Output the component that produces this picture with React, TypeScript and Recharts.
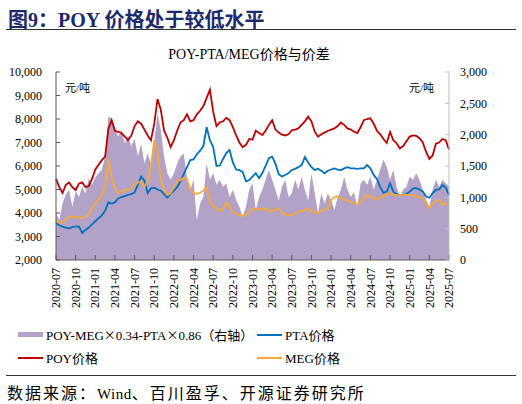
import { Area, ComposedChart, Line, XAxis, YAxis } from "recharts";

// quarterly tick labels on the x axis (one data point every half month)
const tickLabels = [
    '2020-07', '2020-10', '2021-01', '2021-04', '2021-07', '2021-10', '2022-01',
    '2022-04', '2022-07', '2022-10', '2023-01', '2023-04', '2023-07', '2023-10',
    '2024-01', '2024-04', '2024-07', '2024-10', '2025-01', '2025-04', '2025-07',
];

// 元/吨, left axis
const poyPrice = [
    5450, 5100, 4850, 5200, 5300, 5100, 4980, 5250, 5300, 5100,
    5150, 5450, 5850, 6050, 6250, 6400, 7600, 7950, 7500, 7450,
    7400, 7250, 7100, 7300, 7700, 7900, 7800, 7550, 7300, 7100,
    7800, 8850, 8400, 7500, 7200, 6800, 7100, 7500, 7850, 7950,
    8200, 7900, 7950, 8200, 8350, 8550, 8900, 9250, 8300, 7700,
    7850, 7900, 8050, 7950, 7650, 7300, 7000, 6800, 6900, 7150,
    7120, 7500, 7400, 7320, 7500, 7750, 7950, 7550, 7420, 7330,
    7300, 7350, 7520, 7550, 7600, 7750, 7900, 8100, 7900, 7460,
    7250, 7350, 7420, 7500, 7550, 7600, 7700, 7850, 7750, 7600,
    7550, 7460, 7400, 7650, 7950, 8000, 8030, 7800, 7500, 7350,
    7150, 6980, 7450, 7100, 6970, 6750, 6850, 7050, 7250, 7300,
    7280, 7180, 7000, 6600, 6300, 6450, 6950, 7000, 7150, 7100,
    6700,
];

const ptaPrice = [
    3560, 3480, 3420, 3380, 3350, 3400, 3430, 3420, 3150, 3280,
    3380, 3520, 3650, 3780, 3900, 4100, 4450, 4400, 4450, 4620,
    4680, 4720, 4770, 4800, 4880, 5200, 5550, 5380, 4850, 5050,
    5080, 5000, 4950, 4800, 4650, 4820, 4950, 5100, 5350, 5650,
    5950, 6250, 6280, 6500, 6650, 6850, 7650, 7100, 6800, 6000,
    6020, 6300, 6550, 6680, 6150, 5850, 5820, 5750, 5350, 5400,
    5550, 5690, 5480, 5700, 6000, 6330, 6400, 6100, 5650, 5550,
    5620, 5700, 5830, 5880, 5950, 6040, 6380, 6150, 5950, 5830,
    5880, 5800, 5690, 5800, 5850, 5900, 5850, 5830, 5900, 5950,
    5900, 5900, 5880, 5900, 5900, 6040, 5900, 5620, 5450, 5100,
    4860, 4910, 5260, 4910, 4800, 4770, 4770, 4820, 4900, 5050,
    5060, 5000, 4920, 4700, 4650, 4850, 4980, 5000, 5190, 5080,
    4770,
];

const megPrice = [
    3700, 3600, 3580, 3750, 3820, 3860, 3850, 3800, 3780, 3840,
    3950, 4200, 4400, 4580, 4770, 5100, 6300, 5500, 5080, 4850,
    4900, 4980, 4980, 5050, 5200, 5300, 5350, 5120, 5350, 6000,
    7100, 6600, 5400, 5000, 4770, 4840, 5100, 5350, 5400, 5500,
    5450, 5000, 4850, 4820, 4860, 4950, 5100, 4450, 4300, 4200,
    4080, 4200, 4410, 4300, 4050, 3960, 3920, 3860, 3950, 4000,
    4200, 4180, 4130, 4180, 4200, 4070, 4100, 4150, 4200, 4000,
    3940, 3920, 3910, 3980, 4060, 4060, 4120, 4200, 4080, 4030,
    3990, 4100, 4150, 4200, 4550, 4680, 4700, 4630, 4580, 4530,
    4480, 4410, 4400, 4450, 4630, 4750, 4700, 4630, 4560, 4680,
    4720, 4800, 4840, 4780, 4770, 4760, 4780, 4770, 4770, 4740,
    4700, 4680, 4630, 4400, 4200, 4400, 4500, 4560, 4350, 4420,
    4400,
];

// POY-MEG×0.34-PTA×0.86, right axis
const spread = [
    745, 640, 900, 1050, 1120, 850, 1100, 1000, 1170, 1060,
    1300, 1200, 1320, 1385, 1440, 1650, 2290, 2260, 2100, 1970,
    2075, 1860, 1995, 1810, 1940, 1650, 1860, 1540, 1700, 1540,
    1900, 2340, 2075, 1650, 1385, 1280, 1385, 1540, 1650, 1700,
    1300, 1120, 1280, 640, 900, 1010, 1540, 1280, 1385, 1200,
    1280, 1170, 1225, 1000, 1120, 960, 850, 690, 850, 1120,
    1225, 800, 1000, 1120, 1280, 1440, 1280, 1120, 950, 1170,
    1280, 1000, 1065, 1280, 1120, 1330, 1120, 950, 1385, 1065,
    745, 1065, 900, 1065, 960, 800, 1000, 1120, 1330, 1120,
    1010, 1080, 850, 1225, 1280, 1200, 1330, 1120, 1280, 1450,
    1600, 1490, 1280, 1440, 1170, 1010, 1120, 1170, 1330, 1280,
    1385, 1280, 1120, 960, 850, 1120, 1280, 1170, 1280, 1220,
    1170,
];

const leftTicks = [2000, 3000, 4000, 5000, 6000, 7000, 8000, 9000, 10000];
const rightTicks = [0, 500, 1000, 1500, 2000, 2500, 3000];

// t = months since 2020-07
const data = poyPrice.map((v, i) => ({
    t: i / 2,
    poy: v,
    pta: ptaPrice[i],
    meg: megPrice[i],
    spread: spread[i],
}));

const SERIF = "'Liberation Serif', 'Times New Roman', 'Noto Sans CJK SC', serif";
const CJK = "'Noto Sans CJK SC', sans-serif";
const fmt = (v: number) => v.toLocaleString('en-US');

function XTick(props: any) {
    const { x, y, payload } = props;
    return (
        <text x={x} y={y} transform={`rotate(-90, ${x}, ${y})`} textAnchor="end" dy="0.35em"
            fontSize={12} fontFamily={SERIF} fill="#000">
            {tickLabels[Math.round(payload.value / 3)]}
        </text>
    );
}

function LegendItem({ color, label, box }: { color: string; label: React.ReactNode; box?: boolean }) {
    return (
        <div style={{ display: 'flex', alignItems: 'center' }}>
            <div style={{ width: 25, height: box ? 5 : 2, background: color, marginRight: 3 }} />
            <span>{label}</span>
        </div>
    );
}

const times = <span style={{ fontFamily: CJK, fontSize: 12 }}>×</span>;

export default function App() {
    return (
        <div style={{ position: 'absolute', left: 0, top: 0, width: 522, height: 404, background: '#fff', fontFamily: SERIF, color: '#000' }}>
            <div style={{ position: 'absolute', left: 8, top: 4, fontSize: 20, fontWeight: 'bold', color: '#1c2a6b', whiteSpace: 'nowrap' }}>
                图9：POY 价格处于较低水平
            </div>
            <div style={{ position: 'absolute', left: 6, top: 29, width: 510, height: 1, background: '#333' }} />
            <div style={{ position: 'absolute', left: 0, width: 498, top: 43, textAlign: 'center', fontSize: 14, whiteSpace: 'nowrap' }}>
                POY-PTA/MEG价格与价差
            </div>

            <ComposedChart width={522} height={320} data={data} margin={{ top: 72, right: 0, bottom: 0, left: 0 }}
                style={{ position: 'absolute', left: 0, top: 0 }}>
                <XAxis dataKey="t" type="number" domain={[0, 60]} ticks={tickLabels.map((_, i) => i * 3)}
                    interval={0} height={60} tickSize={-5} tickMargin={13} stroke="#595959"
                    tick={(p: any) => <XTick {...p} />} />
                <YAxis yAxisId="left" orientation="left" domain={[2000, 10000]} ticks={leftTicks}
                    width={56} tickSize={-4} tickMargin={18} stroke="#595959" tickFormatter={fmt}
                    tick={{ fill: '#000', fontSize: 12, fontFamily: SERIF }} />
                <YAxis yAxisId="right" orientation="right" domain={[0, 3000]} ticks={rightTicks}
                    width={73} tickSize={-4} tickMargin={15} stroke="#bfbfbf" tickFormatter={fmt}
                    tick={{ fill: '#000', fontSize: 12, fontFamily: SERIF }} />
                <Area yAxisId="right" dataKey="spread" type="linear" stroke="none" fill="#b3a2c7"
                    fillOpacity={1} isAnimationActive={false} />
                <Line yAxisId="left" dataKey="pta" type="linear" stroke="#0070c0" strokeWidth={1.8}
                    dot={false} isAnimationActive={false} />
                <Line yAxisId="left" dataKey="meg" type="linear" stroke="#f8a838" strokeWidth={1.8}
                    dot={false} isAnimationActive={false} />
                <Line yAxisId="left" dataKey="poy" type="linear" stroke="#c00000" strokeWidth={1.8}
                    dot={false} isAnimationActive={false} />
            </ComposedChart>

            <div style={{ position: 'absolute', left: 65, top: 79, fontSize: 11 }}>元/吨</div>
            <div style={{ position: 'absolute', left: 409, top: 79, fontSize: 11 }}>元/吨</div>

            <div style={{ position: 'absolute', left: 18, top: 325, fontSize: 13, whiteSpace: 'nowrap' }}>
                <LegendItem color="#b3a2c7" label={<>POY-MEG{times}0.34-PTA{times}0.86（右轴）</>} box />
            </div>
            <div style={{ position: 'absolute', left: 257, top: 325, fontSize: 13, whiteSpace: 'nowrap' }}>
                <LegendItem color="#0070c0" label="PTA价格" />
            </div>
            <div style={{ position: 'absolute', left: 18, top: 348, fontSize: 13, whiteSpace: 'nowrap' }}>
                <LegendItem color="#c00000" label="POY价格" />
            </div>
            <div style={{ position: 'absolute', left: 257, top: 348, fontSize: 13, whiteSpace: 'nowrap' }}>
                <LegendItem color="#f8a838" label="MEG价格" />
            </div>

            <div style={{ position: 'absolute', left: 6, top: 375, width: 510, height: 1, background: '#333' }} />
            <div style={{ position: 'absolute', left: 7, top: 380, fontSize: 16, letterSpacing: 2, whiteSpace: 'nowrap' }}>
                数据来源：<span style={{ fontSize: 15, letterSpacing: 0.5 }}>Wind</span>、百川盈孚、开源证券研究所
            </div>
        </div>
    );
}
